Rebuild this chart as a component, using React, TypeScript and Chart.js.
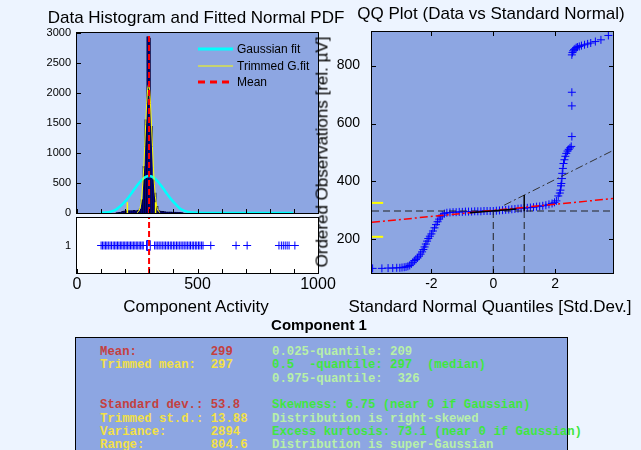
import React, { useEffect, useRef } from 'react';
import { Chart, registerables } from 'chart.js';

Chart.register(...registerables);

// ---------------- data ----------------
const meanValue = 299;

const histBinCenters = [165, 173, 181, 189, 197, 205, 213, 221, 229, 237, 245, 253, 261, 269, 277, 285, 293, 301, 309, 317, 325, 333, 341, 349, 357, 365, 373, 381, 389, 397, 405, 413, 421, 429, 437];
const histCounts = [8, 10, 14, 28, 38, 42, 40, 42, 40, 44, 40, 48, 70, 222, 777, 1555, 2940, 2920, 1443, 555, 338, 110, 40, 30, 26, 24, 20, 20, 18, 15, 15, 14, 12, 10, 8];

const gaussX = [97, 130, 160, 190, 210, 230, 250, 270, 285, 299, 313, 330, 350, 370, 390, 410, 430, 460, 500, 560, 700, 800, 897];
const gaussY = [4, 14, 52, 151, 241, 350, 463, 557, 601, 615, 601, 549, 452, 339, 231, 143, 66, 18, 4, 0, 0, 0, 0];

const trimX = [249, 257, 261, 265, 269, 273, 277, 281, 285, 289, 293, 297, 301, 305, 309, 313, 317, 321, 325, 329, 333, 337, 345];
const trimY = [5, 34, 74, 151, 281, 482, 761, 1107, 1479, 1821, 2062, 2150, 2062, 1821, 1479, 1107, 761, 482, 281, 151, 74, 34, 5];

const quantileMarks = [209, 326];
const quantileMarkHeight = 180;

const histYTicks = [0, 500, 1000, 1500, 2000, 2500, 3000];
const activityTicks = [0, 100, 200, 300, 400, 500, 600, 700, 800, 900, 1000];
const activityLabels = [0, 500, 1000];

const stripValues = [
  100, 106, 112, 118, 124, 130, 137, 143, 150, 156, 162, 168, 174, 180, 186, 192, 198, 204, 210, 216, 222, 228, 234, 240, 246, 252, 258, 264, 270, 275,
  322, 328, 335, 341, 348, 354, 361, 367, 374, 380, 387, 393, 400, 406, 413, 419, 426, 432, 439, 445, 452, 458, 465, 471, 478, 484, 491, 497, 504, 510, 517, 523, 555,
  660, 706, 838, 848, 856, 864, 872, 880, 904,
];
const boxQuartiles = [290, 304];
const stripTicksY = [1];

const qqQuantiles = [
  -3.9, -3.6, -3.4, -3.25, -3.12, -3.02, -2.95, -2.88, -2.82, -2.76, -2.7, -2.65, -2.6,
  -2.55, -2.5, -2.45, -2.4, -2.35, -2.3, -2.26, -2.22, -2.18, -2.14, -2.1, -2.05, -2.0, -1.95, -1.9, -1.85, -1.8, -1.75, -1.7, -1.65, -1.58, -1.5,
  -1.4, -1.3, -1.2, -1.1, -1.0, -0.9, -0.8, -0.7, -0.6, -0.5, -0.4, -0.3, -0.2, -0.1, 0.0,
  0.1, 0.2, 0.3, 0.4, 0.5, 0.6, 0.7, 0.8, 0.9, 1.0, 1.1, 1.2, 1.3, 1.4, 1.5, 1.6, 1.7, 1.8, 1.9, 1.98, 2.04,
  2.1, 2.15, 2.17, 2.19, 2.2, 2.22, 2.23, 2.25, 2.27, 2.3, 2.33, 2.36, 2.4, 2.44, 2.48, 2.52,
  2.54, 2.54, 2.54,
  2.54, 2.56, 2.58, 2.61, 2.64, 2.68, 2.72, 2.78, 2.85, 2.95, 3.05, 3.15, 3.3, 3.48, 3.72,
];
const qqValues = [
  100, 100, 101, 101, 102, 102, 103, 104, 105, 107, 110, 115, 121,
  127, 131, 136, 142, 149, 157, 165, 174, 184, 194, 203, 211, 219, 229, 240, 251, 261, 270, 278, 284, 289, 292,
  293, 294, 294, 295, 295, 296, 296, 296, 297, 297, 297, 298, 298, 298, 298,
  299, 300, 301, 302, 303, 304, 305, 306, 307, 308, 309, 310, 311, 313, 314, 316, 318, 321, 324, 328, 333,
  350, 360, 370, 385, 393, 410, 428, 445, 462, 475, 487, 497, 505, 511, 516, 521,
  555, 661, 708,
  837, 845, 851, 855, 858, 862, 864, 866, 869, 872, 875, 878, 883, 889, 904,
];

const qqXTicks = [-2, 0, 2];
const qqYTicks = [200, 400, 600, 800];
const qqXRange = [-3.92, 3.87];
const qqYRange = [84, 916];
const qqRefLevel = 298;
const qqSdPoint = [1, 353];
const stdLineQ = [0.35, 3.87];
const stdLineV = [318, 507];
const trimLineQ = [-3.92, 3.87];
const trimLineV = [259, 341];
const iqrLineQ = [-0.75, 0.75];
const iqrLineV = [292, 305];
const qqYellowTicks = [209, 326];
const qqYellowTickSpan = [-3.92, -3.56];

const statsLeft = [
  { text: 'Mean:          299', kind: 'red', row: 0 },
  { text: 'Trimmed mean:  297', kind: 'yellow', row: 1 },
  { text: 'Standard dev.: 53.8', kind: 'red', row: 4 },
  { text: 'Trimmed st.d.: 13.88', kind: 'yellow', row: 5 },
  { text: 'Variance:      2894', kind: 'yellow', row: 6 },
  { text: 'Range:         804.6', kind: 'yellow', row: 7 },
];
const statsRight = [
  { text: '0.025-quantile: 209', kind: 'pale', row: 0 },
  { text: '0.5  -quantile: 297  (median)', kind: 'green', row: 1 },
  { text: '0.975-quantile:  326', kind: 'pale', row: 2 },
  { text: 'Skewness: 6.75 (near 0 if Gaussian)', kind: 'green', row: 4 },
  { text: 'Distribution is right-skewed', kind: 'pale', row: 5 },
  { text: 'Excess kurtosis: 73.1 (near 0 if Gaussian)', kind: 'green', row: 6 },
  { text: 'Distribution is super-Gaussian', kind: 'pale', row: 7 },
];

// ---------------- styles ----------------
const FIG_BG = '#EDF4FF';
const AX_BG = '#8DA6E2';
const SANS = '"Liberation Sans", Arial, sans-serif';
const textColors: Record<string, string> = {
  red: '#C4403F',
  yellow: '#F2E046',
  pale: '#B8F0A8',
  green: '#40E640',
};

function makeFrame(bg: string, xTicks: number[], yTicks: number[], allSides: boolean) {
  return {
    id: 'frame',
    beforeDatasetsDraw(chart: any) {
      const { ctx, chartArea: a } = chart;
      ctx.save();
      ctx.fillStyle = bg;
      ctx.fillRect(a.left, a.top, a.right - a.left, a.bottom - a.top);
      ctx.restore();
    },
    afterDraw(chart: any) {
      const { ctx, chartArea: a, scales } = chart;
      const L = 4;
      ctx.save();
      ctx.strokeStyle = '#000';
      ctx.lineWidth = 1;
      ctx.beginPath();
      xTicks.forEach((v) => {
        const p = Math.round(scales.x.getPixelForValue(v)) + 0.5;
        ctx.moveTo(p, a.bottom);
        ctx.lineTo(p, a.bottom - L);
        if (allSides) {
          ctx.moveTo(p, a.top);
          ctx.lineTo(p, a.top + L);
        }
      });
      yTicks.forEach((v) => {
        const p = Math.round(scales.y.getPixelForValue(v)) + 0.5;
        ctx.moveTo(a.left, p);
        ctx.lineTo(a.left + L, p);
        if (allSides) {
          ctx.moveTo(a.right, p);
          ctx.lineTo(a.right - L, p);
        }
      });
      ctx.stroke();
      ctx.strokeRect(a.left - 0.5, a.top - 0.5, a.right - a.left + 1, a.bottom - a.top + 1);
      ctx.restore();
    },
  };
}

function fixSize(size: number, horizontal: boolean) {
  return (s: any) => {
    if (horizontal) s.height = size;
    else s.width = size;
    s.paddingTop = 0;
    s.paddingBottom = 0;
    s.paddingLeft = 0;
    s.paddingRight = 0;
  };
}
function setTicks(values: number[]) {
  return (s: any) => {
    s.ticks = values.map((v) => ({ value: v }));
  };
}
const plainLabel = (v: number) => String(v);

const pts = (xs: number[], ys: number[]) => xs.map((x, i) => ({ x, y: ys[i] }));

const basePlugins = { legend: { display: false }, tooltip: { enabled: false } };

function histConfig(): any {
  return {
    type: 'bar',
    data: {
      datasets: [
        {
          type: 'line',
          data: [{ x: meanValue, y: 0 }, { x: meanValue, y: histYTicks[histYTicks.length - 1] }],
          borderColor: '#FF0000', borderWidth: 2, borderDash: [6, 3], pointRadius: 0, clip: 0,
        },
        ...quantileMarks.map((q) => ({
          type: 'line',
          data: [{ x: q, y: 0 }, { x: q, y: quantileMarkHeight }],
          borderColor: '#FFFF00', borderWidth: 1.5, pointRadius: 0, clip: 0,
        })),
        {
          type: 'line', data: pts(trimX, trimY),
          borderColor: '#FFFF00', borderWidth: 1, pointRadius: 0, clip: 0,
        },
        {
          type: 'line', data: pts(gaussX, gaussY),
          borderColor: '#00FFFF', borderWidth: 2.5, pointRadius: 0, cubicInterpolationMode: 'monotone', clip: 0,
        },
        {
          type: 'bar', data: pts(histBinCenters, histCounts),
          backgroundColor: '#000080', borderColor: '#000022', borderWidth: 0.6,
          barPercentage: 1, categoryPercentage: 1, clip: 0,
        },
      ],
    },
    options: {
      animation: false, responsive: false, devicePixelRatio: 1, events: [],
      layout: { padding: { left: 0, top: 13, right: 7, bottom: 7 } },
      plugins: basePlugins,
      scales: {
        x: {
          type: 'linear', min: 0, max: 1000, offset: false,
          grid: { display: false, drawTicks: false }, border: { display: false },
          ticks: { display: false },
          afterBuildTicks: setTicks(activityTicks), afterFit: fixSize(0, true),
        },
        y: {
          min: 0, max: 3000,
          grid: { display: false, drawTicks: false }, border: { display: false },
          ticks: { color: '#000', padding: 6, font: { family: SANS, size: 11 }, callback: plainLabel },
          afterBuildTicks: setTicks(histYTicks), afterFit: fixSize(77, false),
        },
      },
    },
    plugins: [makeFrame(AX_BG, activityTicks, histYTicks, false)],
  };
}

function stripConfig(): any {
  return {
    type: 'scatter',
    data: {
      datasets: [
        {
          data: [{ x: meanValue, y: 0.5 }, { x: meanValue, y: 1.5 }], showLine: true,
          borderColor: '#FF0000', borderWidth: 2, borderDash: [6, 3], pointRadius: 0, clip: 0,
        },
        {
          data: [
            { x: boxQuartiles[0], y: 0.91 }, { x: boxQuartiles[1], y: 0.91 },
            { x: boxQuartiles[1], y: 1.09 }, { x: boxQuartiles[0], y: 1.09 }, { x: boxQuartiles[0], y: 0.91 },
          ],
          showLine: true, borderColor: '#0000FF', borderWidth: 1, pointRadius: 0, clip: 0,
        },
        {
          data: stripValues.map((v) => ({ x: v, y: 1 })),
          pointStyle: 'cross', pointRadius: 4, borderColor: '#0000FF', borderWidth: 1, clip: 0,
        },
      ],
    },
    options: {
      animation: false, responsive: false, devicePixelRatio: 1, events: [],
      layout: { padding: { left: 0, top: 0, right: 22, bottom: 0 } },
      plugins: basePlugins,
      scales: {
        x: {
          type: 'linear', min: 0, max: 1000,
          grid: { display: false, drawTicks: false }, border: { display: false },
          ticks: {
            color: '#000', padding: 2, autoSkip: false, maxRotation: 0, font: { family: SANS, size: 16 },
            callback: (v: number) => (activityLabels.includes(v) ? String(v) : ''),
          },
          afterBuildTicks: setTicks(activityTicks), afterFit: fixSize(30, true),
        },
        y: {
          min: 0.5, max: 1.5,
          grid: { display: false, drawTicks: false }, border: { display: false },
          ticks: { color: '#000', padding: 6, font: { family: SANS, size: 11 }, callback: plainLabel },
          afterBuildTicks: setTicks(stripTicksY), afterFit: fixSize(77, false),
        },
      },
    },
    plugins: [makeFrame('#FFFFFF', activityTicks, [], false)],
  };
}

function qqConfig(): any {
  const line = (data: any[], color: string, width: number, dash: number[]) => ({
    data, showLine: true, borderColor: color, borderWidth: width, borderDash: dash, pointRadius: 0, clip: 0,
  });
  return {
    type: 'scatter',
    data: {
      datasets: [
        line([{ x: qqSdPoint[0], y: qqRefLevel }, { x: qqSdPoint[0], y: qqSdPoint[1] }], '#000000', 1.5, []),
        line(pts(iqrLineQ, iqrLineV), '#000000', 1.5, []),
        ...qqYellowTicks.map((v) => line([{ x: qqYellowTickSpan[0], y: v }, { x: qqYellowTickSpan[1], y: v }], '#FFFF00', 2, [])),
        line(pts(trimLineQ, trimLineV), '#FF0000', 1.5, [8, 3, 2, 3]),
        line(pts(stdLineQ, stdLineV), '#333333', 1, [8, 3, 2, 3]),
        line([{ x: qqXRange[0], y: qqRefLevel }, { x: qqXRange[1], y: qqRefLevel }], '#222222', 1, [7, 4]),
        line([{ x: 0, y: qqYRange[0] }, { x: 0, y: qqRefLevel }], '#222222', 1, [7, 4]),
        line([{ x: qqSdPoint[0], y: qqYRange[0] }, { x: qqSdPoint[0], y: qqRefLevel }], '#222222', 1, [7, 4]),
        {
          data: pts(qqQuantiles, qqValues),
          pointStyle: 'cross', pointRadius: 4, borderColor: '#0000FF', borderWidth: 1, clip: 0,
        },
      ],
    },
    options: {
      animation: false, responsive: false, devicePixelRatio: 1, events: [],
      layout: { padding: { left: 0, top: 12, right: 15, bottom: 0 } },
      plugins: basePlugins,
      scales: {
        x: {
          type: 'linear', min: qqXRange[0], max: qqXRange[1],
          grid: { display: false, drawTicks: false }, border: { display: false },
          ticks: { color: '#000', padding: 3, autoSkip: false, maxRotation: 0, font: { family: SANS, size: 14 }, callback: plainLabel },
          afterBuildTicks: setTicks(qqXTicks), afterFit: fixSize(27, true),
        },
        y: {
          min: qqYRange[0], max: qqYRange[1],
          grid: { display: false, drawTicks: false }, border: { display: false },
          ticks: { color: '#000', padding: 12, font: { family: SANS, size: 14 }, callback: plainLabel },
          afterBuildTicks: setTicks(qqYTicks), afterFit: fixSize(62, false),
        },
      },
    },
    plugins: [makeFrame(AX_BG, qqXTicks, qqYTicks, true)],
  };
}

function ChartCanvas(props: { make: () => any; left: number; top: number; width: number; height: number }) {
  const ref = useRef<HTMLCanvasElement>(null);
  useEffect(() => {
    const chart = new Chart(ref.current as HTMLCanvasElement, props.make());
    return () => chart.destroy();
  }, []);
  return (
    <canvas
      ref={ref}
      width={props.width}
      height={props.height}
      style={{ position: 'absolute', left: props.left, top: props.top, width: props.width, height: props.height }}
    />
  );
}

function Label(props: { x: number; y: number; size: number; text: string; bold?: boolean; rotate?: boolean }) {
  return (
    <div
      style={{
        position: 'absolute', left: props.x, top: props.y,
        transform: `translate(-50%, -50%)${props.rotate ? ' rotate(-90deg)' : ''}`,
        fontFamily: SANS, fontSize: props.size, lineHeight: 1, whiteSpace: 'nowrap',
        fontWeight: props.bold ? 'bold' : 'normal', color: '#000',
      }}
    >
      {props.text}
    </div>
  );
}

export default function App() {
  const rowY = (row: number) => 352 + row * 13.3;
  const legendRows = [
    { y: 49, text: 'Gaussian fit', color: '#00FFFF', width: 3, dash: '' },
    { y: 66, text: 'Trimmed G.fit', color: '#FFFF00', width: 1, dash: '' },
    { y: 82, text: 'Mean', color: '#FF0000', width: 3, dash: '7 5' },
  ];
  return (
    <div style={{ position: 'fixed', left: 0, top: 0, width: 641, height: 450, overflow: 'hidden', background: FIG_BG }}>
      <ChartCanvas make={histConfig} left={0} top={20} width={325} height={200} />
      <ChartCanvas make={stripConfig} left={0} top={213} width={340} height={90} />
      <ChartCanvas make={qqConfig} left={310} top={20} width={318} height={280} />

      <svg style={{ position: 'absolute', left: 0, top: 0 }} width={641} height={100}>
        {legendRows.map((r) => (
          <line key={r.text} x1={198} x2={233} y1={r.y} y2={r.y} stroke={r.color} strokeWidth={r.width} strokeDasharray={r.dash || undefined} />
        ))}
      </svg>
      {legendRows.map((r) => (
        <div
          key={r.text}
          style={{ position: 'absolute', left: 237, top: r.y - 7, fontFamily: SANS, fontSize: 12, lineHeight: '14px', color: '#000', whiteSpace: 'nowrap' }}
        >
          {r.text}
        </div>
      ))}

      <Label x={196} y={17} size={17} text="Data Histogram and Fitted Normal PDF" />
      <Label x={491} y={13} size={17} text="QQ Plot (Data vs Standard Normal)" />
      <Label x={196} y={306} size={17} text="Component Activity" />
      <Label x={490} y={306} size={17} text="Standard Normal Quantiles [Std.Dev.]" />
      <Label x={322} y={152} size={17} text="Ordered Observations [rel. µV]" rotate />
      <Label x={319} y={324} size={15} text="Component 1" bold />

      <div
        style={{
          position: 'absolute', left: 75, top: 337, width: 493, height: 130,
          background: AX_BG, border: '1px solid #000', boxSizing: 'border-box',
        }}
      />
      {statsLeft.map((s) => (
        <div
          key={s.text}
          style={{
            position: 'absolute', left: 100, top: rowY(s.row) - 7, whiteSpace: 'pre',
            fontFamily: '"Liberation Mono", "Courier New", monospace', fontSize: 12.3, lineHeight: '14px',
            fontWeight: 'bold', color: textColors[s.kind],
          }}
        >
          {s.text}
        </div>
      ))}
      {statsRight.map((s) => (
        <div
          key={s.text}
          style={{
            position: 'absolute', left: 272, top: rowY(s.row) - 7, whiteSpace: 'pre',
            fontFamily: '"Liberation Mono", "Courier New", monospace', fontSize: 12.3, lineHeight: '14px',
            fontWeight: 'bold', color: textColors[s.kind],
          }}
        >
          {s.text}
        </div>
      ))}
    </div>
  );
}
